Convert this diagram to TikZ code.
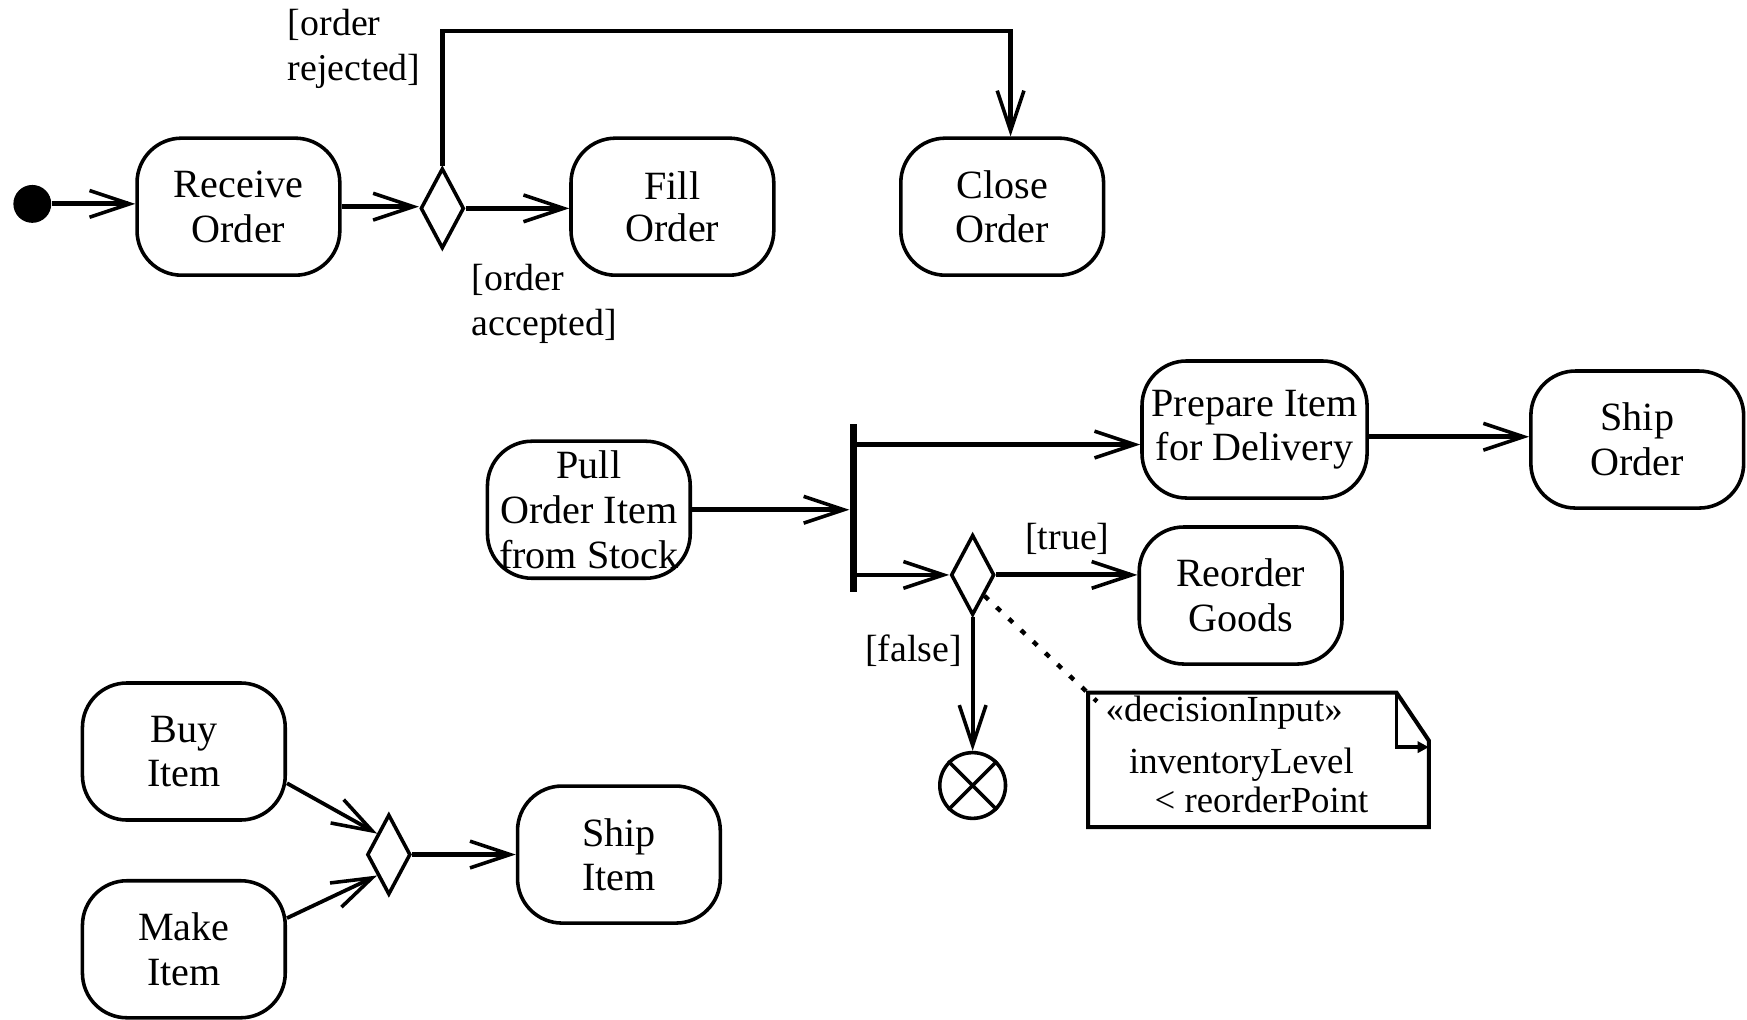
\documentclass[tikz,border=0pt]{standalone}
\usepackage{fontspec}
\setmainfont{Liberation Serif}
\usetikzlibrary{arrows.meta,shapes.geometric,calc}
\begin{document}
\begin{tikzpicture}[x=0.5pt,y=-0.5pt,
  action/.style={draw,line width=1.6pt,rounded corners=20pt,minimum width=91pt,
    minimum height=61.5pt,inner sep=0pt,align=center,font=\fontsize{18}{20}\selectfont},
  decision/.style={diamond,draw,line width=1.6pt,minimum width=19.5pt,
    minimum height=36pt,inner sep=0pt},
  guard/.style={inner sep=0pt,align=left,font=\fontsize{17}{20}\selectfont},
  flow/.style={line width=2.3pt,-{Straight Barb[length=18pt,width=12pt,line width=1.6pt]}},
  thinflow/.style={flow,line width=1.7pt},
  notetext/.style={anchor=west,inner sep=0pt,font=\fontsize{16.5}{20}\selectfont}]
\useasboundingbox (0,0) rectangle (1568,915);

% --- order handling ---
\node[fill,circle,inner sep=0pt,minimum size=17pt] (init) at (29,183) {};
\node[action] (recv) at (214,185.5) {Receive\\Order};
\node[decision] (d1) at (397,187) {};
\node[action] (fill) at (603.5,185.5) {Fill\\[-1pt]Order};
\node[action] (close) at (899.5,185.5) {Close\\Order};

\draw[flow] (init.east) -- (init.east -| recv.west);
\draw[flow] (recv.east) -- (recv.east -| d1.west);
\draw[flow] (d1.east) -- (d1.east -| fill.west);
\coordinate (rtop) at (650,28);
\draw[thinflow,line width=2pt] (d1.north) |- (rtop) -| ([xshift=3.75pt]close.north);

\node[guard,anchor=west] (lrej) at (258,44) {[order\\rejected]};
\node[guard,anchor=west] (lacc) at (423,273) {[order\\accepted]};

% --- fork and reorder decision ---
\node[action] (pull) at (528.5,457.5) {Pull\\Order Item\\from Stock};
\node[fill,inner sep=0pt,minimum width=3.2pt,minimum height=75pt] (fork) at (766,456) {};
\node[action,minimum width=101pt] (prep) at (1126,385.5) {Prepare Item\\for Delivery};
\node[action,minimum width=95.5pt] (ship) at (1469.5,394.5) {Ship\\Order};
\node[decision] (d2) at (873,516) {};
\node[action] (reord) at (1113.5,534.5) {Reorder\\Goods};
\node[circle,draw,line width=1.6pt,minimum size=29.5pt,inner sep=0pt] (final) at (873,705) {};
\draw[line width=1.6pt] (final.north west) -- (final.south east)
                        (final.north east) -- (final.south west);

\draw[flow] (pull.east) -- (pull.east -| fork.west);
\coordinate (pin) at ([yshift=-6.75pt]prep.west);
\draw[flow] (fork.east |- pin) -- (pin);
\draw[flow] ([yshift=-3.25pt]prep.east) -- ([yshift=-3.25pt]prep.east -| ship.west);
\draw[thinflow] (fork.east |- d2.west) -- (d2.west);
\draw[flow] (d2.east) -- (d2.east -| reord.west);
\draw[thinflow] (d2.south) -- (final.north);

\node[guard] (ltrue) at (958,484) {[true]};
\node[guard] (lfalse) at (820,584) {[false]};

% --- decision input note ---
\node[inner sep=0pt,minimum width=152.5pt,minimum height=60pt] (note) at (1129.5,682) {};
\draw[line width=1.8pt] (note.north west) -- ([xshift=-14.5pt]note.north east)
  -- ([yshift=-21.5pt]note.north east) -- (note.south east) -- (note.south west) -- cycle;
\draw[line width=1.6pt,-{Triangle[length=5pt,width=5pt]}]
  ([xshift=-14.5pt]note.north east) -- ([xshift=-14.5pt,yshift=-24.5pt]note.north east)
  -- ([yshift=-24.5pt]note.north east);
\draw[line width=2pt,dash pattern=on 2.5pt off 5pt]
  (d2.south east) -- ([shift={(4pt,-4pt)}]note.north west);
\node[notetext] (stereo) at (992,640) {«decisionInput»};
\node[notetext] (expr1) at (1013,686) {inventoryLevel};
\node[notetext] (expr2) at (1036,718) {< reorderPoint};

% --- merge ---
\node[action] (buy) at (165,674.5) {Buy\\Item};
\node[action] (make) at (165,852) {Make\\Item};
\node[decision] (d3) at (349,767) {};
\node[action] (shipi) at (555.5,767) {Ship\\Item};
\draw[thinflow] ([yshift=-14.25pt]buy.east) -- (d3.north west);
\draw[thinflow] ([yshift=14pt]make.east) -- (d3.south west);
\draw[flow] (d3.east) -- (shipi.west);
\end{tikzpicture}
\end{document}
